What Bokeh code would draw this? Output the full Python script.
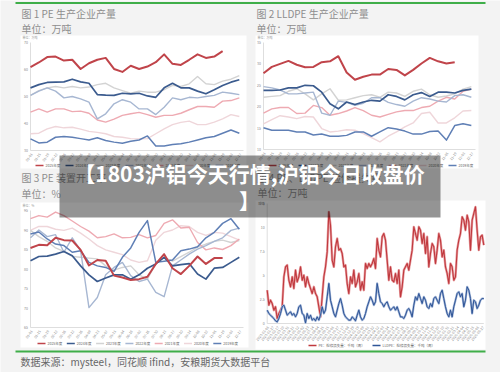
import math
from bokeh.plotting import figure
from bokeh.models import Range1d
from bokeh.embed import file_html
from bokeh.resources import INLINE
from bokeh.core.properties import value

FONT = value("Noto Sans CJK SC")

# ---------------- data ----------------
year_labels = ["2025年度", "2024年度", "2023年度", "2022年度", "2021年度", "2020年度", "2019年度"]
year_colors = ["#c0444a", "#3b5b8e", "#d3d3d3", "#a7b7d2", "#eeaab2", "#efd6da", "#5f7fb5"]

weeks = [1, 3, 5, 7, 9, 11, 13, 15, 17, 19, 21, 23, 25, 27, 29, 31, 33, 35, 37, 39, 41, 43, 45, 47, 49, 51]
week_labels = ["01-01", "01-15", "01-29", "02-12", "02-26", "03-12", "03-26", "04-09", "04-23",
               "05-07", "05-21", "06-04", "06-18", "07-02", "07-16", "07-30", "08-13", "08-27",
               "09-10", "09-24", "10-08", "10-22", "11-05", "11-19", "12-03", "12-17"]

# Fig 1: PE production (10k t)
pe_2025 = [60.9, 62.6, 64.6, 64.8, 63.3, 63.6, 60.2, 62.3, 63.6, 64.3, 60.2, 59.1, 61.4, 60.2, 61.1, 62.7, 65.6, 62.1, 61.7, 63.6, 65.6, 64.3, 64.8, 66.8]
pe_2024 = [53.2, 54.4, 55.2, 55.3, 55.4, 56.4, 55.4, 54.9, 50.7, 50.5, 50.4, 51.2, 51.0, 51.2, 50.2, 49.7, 53.2, 54.9, 53.2, 53.2, 52.0, 51.0, 52.5, 54.1, 55.3, 56.2]
pe_2023 = [50.4, 52.2, 53.2, 53.7, 53.2, 53.7, 53.2, 53.5, 54.4, 54.9, 53.2, 52.2, 51.2, 52.0, 51.6, 51.6, 52.5, 54.1, 53.7, 54.7, 57.4, 54.7, 54.4, 55.7, 56.4, 57.7]
pe_2022 = [50.4, 52.0, 53.2, 52.0, 49.5, 50.0, 49.1, 47.9, 41.7, 43.6, 47.3, 48.8, 47.9, 45.4, 45.4, 43.3, 46.0, 49.5, 48.8, 49.7, 49.5, 50.0, 50.4, 51.6, 51.2, 50.7]
pe_2021 = [44.2, 45.4, 44.2, 45.4, 45.4, 44.4, 44.6, 43.8, 41.3, 40.5, 41.6, 43.0, 43.6, 44.1, 43.3, 42.3, 43.0, 43.0, 43.8, 45.1, 46.3, 46.3, 46.0, 48.3, 48.5, 49.5]
pe_2020 = [36.2, 36.4, 38.0, 38.9, 38.4, 38.6, 37.9, 37.1, 36.7, 36.2, 35.2, 34.9, 34.4, 34.3, 34.4, 36.2, 38.0, 39.6, 40.4, 40.9, 39.6, 39.6, 40.5, 41.7, 43.3, 42.6]
pe_2019 = [34.3, 32.8, 33.1, 34.9, 35.2, 34.9, 34.4, 33.9, 34.7, 33.7, 33.1, 32.7, 33.4, 33.9, 35.4, 31.7, 31.7, 32.2, 32.5, 33.1, 33.9, 34.7, 35.2, 36.4, 37.6, 36.4]
pe_ticks = [30, 40, 50, 60, 70]

# Fig 2: LLDPE production (10k t)
ll_2025 = [27.8, 29.3, 30.0, 30.7, 29.8, 29.2, 29.3, 30.4, 30.6, 31.8, 28.0, 26.3, 27.0, 27.5, 27.5, 28.8, 28.6, 27.3, 28.6, 30.1, 31.4, 30.6, 30.1, 30.4]
ll_2024 = [23.8, 23.8, 23.9, 24.4, 24.4, 25.0, 24.9, 23.4, 20.7, 19.5, 21.1, 20.5, 21.1, 21.5, 21.3, 22.8, 22.4, 21.6, 22.8, 23.3, 22.4, 23.4, 23.4, 23.2, 23.8, 24.1]
ll_2023 = [22.2, 22.4, 22.6, 23.6, 24.2, 23.0, 21.6, 23.0, 24.2, 21.5, 21.6, 22.1, 22.6, 22.8, 22.2, 23.4, 23.2, 22.4, 23.6, 24.1, 22.8, 22.2, 22.5, 23.0, 24.1, 24.7]
ll_2022 = [24.7, 24.4, 23.9, 23.0, 23.0, 23.2, 23.4, 18.5, 18.0, 21.3, 21.0, 20.3, 20.8, 22.1, 22.1, 21.0, 20.5, 20.1, 21.3, 22.1, 21.8, 21.3, 21.1, 22.6, 22.8, 22.2]
ll_2021 = [18.5, 19.5, 19.8, 19.8, 18.4, 18.5, 20.3, 19.8, 18.0, 18.4, 19.0, 19.8, 19.1, 18.0, 17.6, 18.2, 18.8, 19.1, 19.1, 19.8, 20.1, 21.3, 22.2, 21.8, 23.6, 24.1]
ll_2020 = [16.0, 17.0, 17.9, 17.6, 17.2, 17.7, 17.6, 14.9, 14.1, 14.3, 14.6, 14.5, 13.7, 12.8, 11.8, 13.1, 14.1, 15.3, 16.2, 18.4, 18.7, 16.2, 16.2, 17.4, 19.0, 19.1]
ll_2019 = [15.1, 14.5, 14.5, 14.5, 14.1, 14.1, 13.4, 13.6, 13.1, 13.1, 13.3, 14.1, 14.1, 13.1, 14.1, 15.1, 14.8, 14.3, 13.6, 13.6, 14.2, 14.3, 12.2, 15.6, 16.0, 15.6]
ll_ticks = [10, 15, 20, 25, 30, 35]

# Fig 3: PE operating rate (%)
op_2025 = [85.4, 86.2, 86.1, 88.0, 87.4, 87.3, 84.9, 80.9, 82.3, 82.1, 78.3, 77.8, 77.2, 77.4, 78.0, 81.3, 83.8, 80.2, 78.7, 80.8, 83.2, 81.3, 82.8, 82.8]
op_2024 = [82.1, 83.2, 83.3, 83.8, 84.5, 83.4, 80.8, 78.5, 76.8, 77.7, 78.5, 78.5, 77.4, 78.5, 80.2, 81.3, 83.0, 80.8, 81.1, 81.4, 78.7, 77.4, 80.2, 80.4, 81.7, 83.0]
op_2023 = [89.9, 88.3, 87.1, 85.4, 84.5, 83.2, 83.0, 82.8, 82.6, 80.8, 79.7, 80.4, 80.8, 78.5, 77.4, 81.4, 83.0, 82.0, 83.2, 84.3, 85.6, 86.4, 87.1, 87.4, 86.8, 87.3]
op_2022 = [88.0, 90.0, 88.3, 88.8, 84.3, 88.0, 84.7, 70.1, 72.7, 78.5, 80.4, 81.7, 78.3, 76.8, 77.4, 74.0, 72.9, 80.8, 82.3, 83.8, 85.1, 86.0, 87.1, 88.0, 89.9, 90.5]
op_2021 = [92.9, 93.7, 93.3, 94.6, 93.7, 92.3, 90.9, 89.7, 88.0, 88.3, 89.0, 88.0, 88.1, 88.8, 88.0, 88.6, 91.7, 92.6, 90.5, 90.7, 86.8, 84.9, 85.4, 85.0, 86.0, 87.7]
op_2020 = [89.9, 90.9, 90.9, 90.2, 89.9, 90.5, 89.2, 87.7, 86.0, 84.9, 84.3, 83.7, 82.3, 81.7, 82.1, 87.4, 89.4, 90.0, 91.1, 90.9, 89.4, 88.6, 89.4, 89.2, 88.3, 87.4]
op_2019 = [89.0, 89.5, 87.7, 86.4, 86.0, 84.3, 84.7, 81.7, 80.8, 80.4, 79.4, 83.0, 85.4, 89.4, 92.4, 81.7, 82.0, 82.3, 84.7, 85.1, 85.7, 88.0, 89.4, 91.7, 92.9, 90.2]
op_ticks = [65, 70, 75, 80, 85, 90, 95]

# Fig 4: maintenance loss (weekly)
loss_pe = [3.47, 1.91, 2.43, 2.08, 1.39, 1.74, 0.52, 1.04, 1.39, 1.74, 4.86, 5.90, 6.08, 4.51, 3.82, 4.86, 3.65, 5.56, 4.34, 4.86,
           5.90, 4.51, 5.03, 3.82, 4.86, 4.17, 3.65, 3.12, 3.82, 3.12, 2.78, 1.74, 0.69, 2.78, 4.86, 5.90, 7.46, 11.63, 10.24, 6.60,
           5.90, 7.99, 8.85, 7.64, 7.81, 7.29, 5.90, 6.08, 4.17, 3.12, 4.86, 4.17, 5.56, 3.82, 4.34, 5.21, 3.47, 4.34, 3.47, 6.25,
           5.73, 6.25, 5.90, 6.25, 6.77, 5.73, 8.85, 7.64, 6.94, 9.03, 9.37, 8.68, 6.60, 4.51, 5.90, 4.51, 4.34, 5.21, 4.17, 5.56,
           2.78, 3.82, 5.56, 5.90, 6.25, 5.56, 6.60, 7.64, 10.07, 9.37, 8.68, 10.07, 9.72, 8.33, 9.37, 7.29, 9.03, 5.90, 7.29, 8.33,
           7.99, 6.25, 7.64, 9.37, 8.68, 6.94, 7.64, 5.90, 5.21, 4.17, 6.25, 5.90, 4.51, 4.86, 7.64, 8.68, 9.37, 11.11, 10.76, 9.72,
           11.28, 10.59, 7.64, 10.76, 11.46, 12.15, 9.72, 7.64, 9.03, 9.20, 8.16]
loss_ll = [1.39, 1.04, 0.87, 0.69, 0.52, 0.28, 0.17, 0.52, 1.04, 1.74, 1.91, 1.39, 0.87, 1.04, 1.22, 0.87, 1.04, 0.69, 1.04, 1.74,
           1.91, 1.04, 0.87, 0.07, 1.04, 0.52, 0.87, 0.35, 0.52, 0.28, 0.69, 0.35, 0.87, 1.74, 1.04, 1.39, 2.78, 4.17, 2.43, 1.74,
           1.04, 0.69, 1.39, 2.08, 2.60, 1.91, 1.04, 0.69, 0.52, 0.35, 0.35, 0.69, 0.52, 0.28, 0.87, 1.39, 0.69, 0.35, 0.52, 1.04,
           1.74, 2.26, 2.78, 2.43, 1.91, 2.26, 4.17, 3.12, 2.26, 2.08, 1.74, 2.08, 2.26, 1.74, 1.39, 1.56, 1.74, 1.39, 1.74, 1.22,
           0.69, 0.69, 0.52, 0.87, 1.39, 1.56, 1.22, 0.69, 1.91, 2.78, 2.43, 3.12, 2.60, 2.08, 2.78, 2.43, 1.74, 1.56, 2.08, 1.74,
           2.60, 2.78, 2.43, 2.08, 3.12, 3.47, 2.60, 1.74, 1.04, 0.69, 1.39, 0.69, 1.74, 2.43, 3.12, 3.30, 2.78, 3.12, 1.74, 2.43,
           3.82, 3.47, 2.60, 1.04, 2.43, 2.26, 1.56, 1.91, 2.43, 2.60, 2.60]
loss_ticks = [0, 2.5, 5, 7.5, 10, 12.5]
loss_tick_labels = ["0", "2.5", "5", "7.5", "10", "12.5"]
date_labels = ["2023-01-06", "2023-01-27", "2023-02-17", "2023-03-10", "2023-03-31", "2023-04-21", "2023-05-12",
               "2023-06-02", "2023-06-23", "2023-07-14", "2023-08-04", "2023-08-25", "2023-09-15", "2023-10-06",
               "2023-10-27", "2023-11-17", "2023-12-08", "2023-12-29", "2024-01-19", "2024-02-09", "2024-03-01",
               "2024-03-22", "2024-04-12", "2024-05-03", "2024-05-24", "2024-06-14", "2024-07-05", "2024-07-26",
               "2024-08-16", "2024-09-06", "2024-09-27", "2024-10-18", "2024-11-08", "2024-11-29", "2024-12-20",
               "2025-01-10", "2025-01-31", "2025-02-21", "2025-03-14", "2025-04-04", "2025-04-25", "2025-05-16",
               "2025-06-06", "2025-06-27"]
loss_labels = ["PE：检修损失量：千吨（周）", "LLDPE：检修损失量：千吨（周）"]
loss_colors = ["#c0393e", "#2f5597"]

# ---------------- figure ----------------
W, H = 500, 372
X0, X1, Y0, Y1 = 0, W, H, 0  # picture-pixel coordinate system of the canvas

p = figure(width=W, height=H, output_backend="svg", toolbar_location=None,
           x_range=Range1d(X0, X1), y_range=Range1d(Y0, Y1),
           x_axis_location=None, y_axis_location=None, min_border=0)
p.grid.visible = False
p.outline_line_color = None
p.background_fill_color = "#f3f3f3"
p.border_fill_color = "#f3f3f3"

# panel plot boxes: (data x0, x1), (px x0, x1), (value lo, hi), (px y lo, y hi)
PANELS = {
    "p1": ((1, 52), (30, 243), (30, 70), (150, 42)),
    "p2": ((1, 52), (263, 475), (10, 35), (149, 42)),
    "p3": ((1, 52), (30, 243), (65, 95), (327, 210)),
    "p4": ((0, 130), (266.7, 483.3), (0, 12.5), (323, 203)),
}
xr, yr = {}, {}
for name, ((d0, d1), (px0, px1), (v0, v1), (py0, py1)) in PANELS.items():
    kx = (d1 - d0) / (px1 - px0)
    xr[name] = Range1d(d0 - (px0 - X0) * kx, d1 + (X1 - px1) * kx)
    ky = (v1 - v0) / (py0 - py1)
    yr[name] = Range1d(v0 - (Y0 - py0) * ky, v1 + (py1 - Y1) * ky)
p.extra_x_ranges = xr
p.extra_y_ranges = yr

# top rule
p.segment(x0=[15], y0=[2.5], x1=[485], y1=[2.5], line_color="#3fae49", line_width=2)

# white chart cards
p.quad(left=[20, 255, 20, 255], right=[246, 478, 248, 485], top=[35, 35, 202, 200],
       bottom=[168, 168, 347, 349], fill_color="white", line_color=None)

# headings
TITLE_C = "#8e8e8e"
p.text(x=[21, 256, 21, 256], y=[13, 13, 177, 177],
       text=["图 1 PE 生产企业产量", "图 2 LLDPE 生产企业产量", "图 3 PE 装置开工率", "图 4 PE、LLDPE 检修损失量"],
       text_font=FONT, text_font_size="10px", text_color=TITLE_C, text_baseline="middle", text_align="left")
p.text(x=[21, 256, 21, 257], y=[28, 28, 193, 192],
       text=["单位：万吨", "单位：万吨", "单位：%", "单位：万吨"],
       text_font=FONT, text_font_size="10px", text_color=TITLE_C, text_baseline="middle", text_align="left")
p.text(x=[22, 257, 22, 258], y=[37, 37, 205, 203], text=["单位：万吨", "单位：万吨", "单位：%", "千吨"],
       text_font=FONT, text_font_size="3px", text_color="#999999", text_baseline="middle")


def axes(name, ticks, tick_text, xticks, xtick_text, angle, lab_size):
    (d0, d1), _, (v0, v1), _ = PANELS[name]
    p.segment(x0=[d0, d0], y0=[v0, v0], x1=[d0, d1], y1=[v1, v0], x_range_name=name, y_range_name=name,
              line_color="#d6d6d6", line_width=0.8)
    p.text(x=[d0] * len(ticks), y=ticks, text=tick_text, x_range_name=name, y_range_name=name,
           x_offset=-2.5, text_align="right", text_baseline="middle", text_font=FONT,
           text_font_size="3.5px", text_color="#8a8a8a")
    p.text(x=xticks, y=[v0] * len(xticks), text=xtick_text, x_range_name=name, y_range_name=name,
           angle=math.radians(angle), x_offset=1, y_offset=3, text_align="right", text_baseline="middle",
           text_font=FONT, text_font_size=lab_size, text_color="#8a8a8a")


axes("p1", pe_ticks, [str(t) for t in pe_ticks], weeks, week_labels, 55, "3.5px")
axes("p2", ll_ticks, [str(t) for t in ll_ticks], weeks, week_labels, 55, "3.5px")
axes("p3", op_ticks, [str(t) for t in op_ticks], weeks, week_labels, 55, "3.5px")
axes("p4", loss_ticks, loss_tick_labels, list(range(0, 131, 3)), date_labels, 50, "3.5px")

# year-over-year lines
order = [5, 2, 4, 3, 6, 1, 0]  # light series first, 2025 on top
widths = [2.0, 1.7, 1.4, 1.4, 1.4, 1.4, 1.5]
for name, series in (("p1", [pe_2025, pe_2024, pe_2023, pe_2022, pe_2021, pe_2020, pe_2019]),
                     ("p2", [ll_2025, ll_2024, ll_2023, ll_2022, ll_2021, ll_2020, ll_2019]),
                     ("p3", [op_2025, op_2024, op_2023, op_2022, op_2021, op_2020, op_2019])):
    for i in order:
        ys = series[i]
        p.line(weeks[:len(ys)], ys, x_range_name=name, y_range_name=name,
               line_color=year_colors[i], line_width=widths[i], line_join="round")

# maintenance loss lines
p.line(list(range(len(loss_pe))), loss_pe, x_range_name="p4", y_range_name="p4",
       line_color="#e8a0a3", line_width=2.4, line_join="round")
p.line(list(range(len(loss_pe))), loss_pe, x_range_name="p4", y_range_name="p4",
       line_color=loss_colors[0], line_width=1.1, line_join="round")
p.line(list(range(len(loss_ll))), loss_ll, x_range_name="p4", y_range_name="p4",
       line_color="#9fb3d6", line_width=2.2, line_join="round")
p.line(list(range(len(loss_ll))), loss_ll, x_range_name="p4", y_range_name="p4",
       line_color=loss_colors[1], line_width=1.0, line_join="round")


# legends (hand-placed rows)
def legend_row(x_start, y, step, colors, labels, sw=8):
    xs = [x_start + k * step for k in range(len(labels))]
    p.segment(x0=xs, y0=[y] * len(xs), x1=[x + sw for x in xs], y1=[y] * len(xs),
              line_color=colors, line_width=1.4)
    p.text(x=[x + sw + 2 for x in xs], y=[y] * len(xs), text=labels, text_font=FONT,
           text_font_size="3.5px", text_color="#666666", text_baseline="middle")


legend_row(35, 165, 30, year_colors, year_labels)
legend_row(268, 165, 30, year_colors, year_labels)
legend_row(37, 343, 29.3, year_colors, year_labels)
legend_row(308, 345, 64, loss_colors, loss_labels)

# footer
p.segment(x0=[15], y0=[351], x1=[485], y1=[351], line_color="#3fae49", line_width=2)
p.text(x=[20], y=[361], text=["数据来源：mysteel，同花顺 ifind，安粮期货大数据平台"], text_font=FONT,
       text_font_size="10px", text_color="#666666", text_baseline="middle")

# headline banner over the charts
p.quad(left=[59], right=[440], top=[155], bottom=[217], fill_color="black", fill_alpha=0.42, line_color=None)
p.text(x=[249, 249], y=[172, 199], text=["【1803沪铝今天行情,沪铝今日收盘价", "】"], text_font=FONT,
       text_font_size="21px", text_font_style="bold", text_color="white", text_align="center",
       text_baseline="middle")

open("out.html", "w").write(file_html(p, INLINE))
